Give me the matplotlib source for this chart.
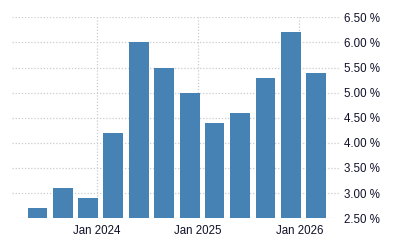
import matplotlib.pyplot as plt
import matplotlib.dates as mdates
import pandas as pd

# Quarterly values (percent)
dates = ["2023-06-01", "2023-09-01", "2023-12-01", "2024-03-01",
         "2024-06-01", "2024-09-01", "2024-12-01", "2025-03-01",
         "2025-06-01", "2025-09-01", "2025-12-01", "2026-03-01"]
values = [2.7, 3.1, 2.9, 4.2, 6.0, 5.5, 5.0, 4.4, 4.6, 5.3, 6.2, 5.4]
y_ticks = [2.5, 3.0, 3.5, 4.0, 4.5, 5.0, 5.5, 6.0, 6.5]
x_ticks = ["2024-01-01", "2025-01-01", "2026-01-01"]

x = pd.to_datetime(dates)

fig = plt.figure(figsize=(4, 2.5), dpi=100)
ax = fig.add_axes([0.03, 0.127, 0.82, 0.804])

ax.bar(x, values, width=72, color="#4682b4", zorder=2)

ax.set_ylim(2.5, 6.5)
ax.set_xlim(x[0] - pd.Timedelta(days=92), x[-1] + pd.Timedelta(days=88))
ax.set_yticks(y_ticks)
ax.set_yticklabels([f"{v:.2f} %" for v in y_ticks])
ax.set_xticks(pd.to_datetime(x_ticks))
ax.xaxis.set_major_formatter(mdates.DateFormatter("%b %Y"))

ax.yaxis.tick_right()
ax.grid(True, color="#cccccc", linestyle=(0, (1, 1.5)), linewidth=0.9, zorder=0)
for s in ax.spines.values():
    s.set_visible(False)
ax.tick_params(axis="both", length=0, labelsize=8.3, colors="#10102a")
ax.tick_params(axis="y", pad=3)
ax.tick_params(axis="x", pad=5)
for lbl in ax.get_xticklabels() + ax.get_yticklabels():
    lbl.set_fontfamily("Liberation Sans")

fig.savefig("out.png", dpi=100)
